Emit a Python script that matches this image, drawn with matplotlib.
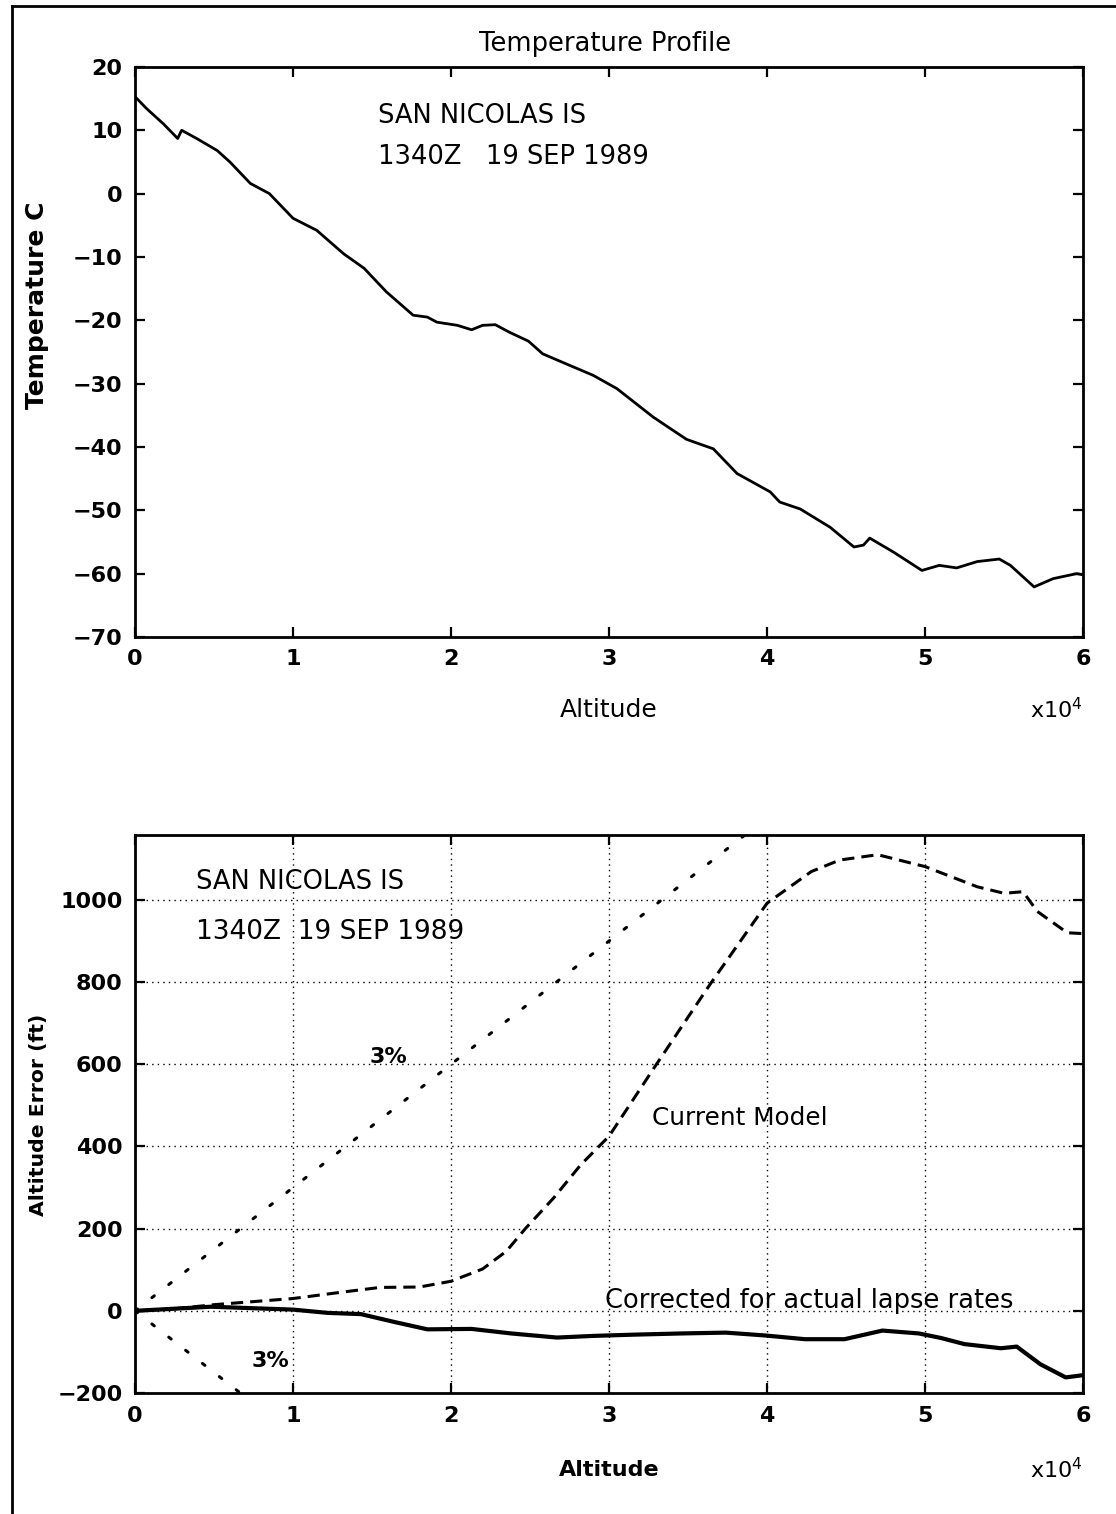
import matplotlib
matplotlib.use('Agg')
import matplotlib.pyplot as plt
from matplotlib.lines import Line2D

# temperature sounding, San Nicolas Is 1340Z 19 Sep 1989
alt_t = [0, 740, 1800, 2700, 2950, 3900, 5200, 6000, 7300, 8500, 10000, 11500,
         13200, 14500, 15900, 17600, 18500, 19100, 20400, 21300, 22000, 22800,
         23700, 24900, 25800, 27300, 29000, 30500, 32800, 34900, 36600, 38100,
         40200, 40800, 42100, 44000, 45500, 46100, 46500, 48000, 49800, 50900,
         52000, 53300, 54700, 55400, 56900, 58100, 59600, 60000]
temp = [15.3, 13.4, 11, 8.7, 10, 8.7, 6.8, 5, 1.6, 0, -3.9, -5.8,
        -9.5, -11.8, -15.5, -19.2, -19.5, -20.3, -20.8, -21.5, -20.8, -20.7,
        -21.9, -23.3, -25.3, -26.9, -28.7, -30.8, -35.3, -38.8, -40.3, -44.2,
        -47.1, -48.7, -49.8, -52.7, -55.8, -55.5, -54.4, -56.6, -59.5, -58.7,
        -59.1, -58.1, -57.7, -58.7, -62.1, -60.8, -60, -60.2]

# altitude error (ft)
alt_cm = [0, 2500, 5000, 10000, 13000, 15500, 18000, 20000, 22000, 23500, 24700,
          26500, 28200, 30000, 33000, 36400, 40000, 42800, 44600, 47000, 50000,
          53300, 55000, 56200, 57100, 59000, 60000]
err_cm = [0, 5, 15, 30, 45, 57, 58, 72, 102, 145, 200,
          275, 355, 425, 600, 795, 992, 1069, 1097, 1110, 1081,
          1032, 1016, 1020, 972, 920, 918]

alt_co = [0, 4800, 10000, 12200, 14300, 16400, 18500, 21300, 23800, 26700, 29000,
          31500, 34600, 37400, 39900, 42400, 44900, 47300, 49600, 51000, 52500,
          54800, 55800, 57300, 58900, 59900]
err_co = [0, 10, 3, -5, -8, -27, -45, -44, -55, -65, -61,
          -58, -55, -53, -60, -69, -69, -48, -55, -66, -81,
          -91, -87, -130, -162, -157]

alt_pct = [0, 10000, 20000, 30000, 40000]
err_up = [0, 300, 600, 900, 1200]
err_dn = [0, -300, -600, -900, -1200]

x_ticks = [0, 10000, 20000, 30000, 40000, 50000, 60000]
x_labels = ['0', '1', '2', '3', '4', '5', '6']
t_ticks = [20, 10, 0, -10, -20, -30, -40, -50, -60, -70]
e_ticks = [-200, 0, 200, 400, 600, 800, 1000]

TXT = dict(family='DejaVu Sans', color='black')


def style_axes(ax):
    for s in ax.spines.values():
        s.set_linewidth(2)
    ax.tick_params(direction='in', length=7, width=1.6, top=True, right=True,
                   labelsize=16, pad=9)
    for lab in ax.get_xticklabels() + ax.get_yticklabels():
        lab.set_fontweight('bold')
    ax.set_xlim(0, 60000)
    ax.set_xticks(x_ticks)
    ax.set_xticklabels(x_labels, fontweight='bold')


fig = plt.figure(figsize=(11.16, 15.14), dpi=100)

# top panel
ax1 = fig.add_axes([0.121, 0.5793, 0.8495, 0.3765])
ax1.plot(alt_t, temp, color='black', lw=2)
ax1.set_ylim(-70, 20)
ax1.set_yticks(t_ticks)
ax1.set_yticklabels([str(v).replace('-', '\u2212') for v in t_ticks], fontweight='bold')
style_axes(ax1)
ax1.text(0.496, 1.04, 'Temperature Profile', transform=ax1.transAxes,
         ha='center', va='center', fontsize=18.5, **TXT)
ax1.text(15380, 12.2, 'SAN NICOLAS IS', ha='left', va='center', fontsize=18.5, **TXT)
ax1.text(15380, 5.8, '1340Z   19 SEP 1989', ha='left', va='center', fontsize=18.5, **TXT)
ax1.text(0.5, -0.128, 'Altitude', transform=ax1.transAxes, ha='center', va='center',
         fontsize=18, **TXT)
ax1.text(1.0, -0.128, 'x10$^4$', transform=ax1.transAxes, ha='right', va='center',
         fontsize=16, **TXT)
ax1.text(-0.103, 0.582, 'Temperature C', transform=ax1.transAxes, rotation=90,
         ha='center', va='center', fontsize=18, fontweight='bold', **TXT)

# bottom panel
ax2 = fig.add_axes([0.121, 0.0799, 0.8495, 0.3686])
ax2.grid(True, color='black', linestyle=(0, (1, 3)), linewidth=1)
ax2.plot(alt_pct, err_up, color='black', lw=2.2, linestyle=(0, (1, 6)),
         dash_capstyle='round')
ax2.plot(alt_pct, err_dn, color='black', lw=2.2, linestyle=(0, (1, 6)),
         dash_capstyle='round')
ax2.plot(alt_cm, err_cm, color='black', lw=2.2, linestyle=(0, (4, 2.3)))
ax2.plot(alt_co, err_co, color='black', lw=3)
ax2.set_ylim(-200, 1158)
ax2.set_yticks(e_ticks)
ax2.set_yticklabels([str(v).replace('-', '\u2212') for v in e_ticks], fontweight='bold')
style_axes(ax2)
ax2.text(3860, 1044, 'SAN NICOLAS IS', ha='left', va='center', fontsize=18.5, **TXT)
ax2.text(3860, 922, '1340Z  19 SEP 1989', ha='left', va='center', fontsize=19, **TXT)
ax2.text(14870, 617, '3%', ha='left', va='center', fontsize=16, fontweight='bold', **TXT)
ax2.text(7400, -122, '3%', ha='left', va='center', fontsize=16, fontweight='bold', **TXT)
ax2.text(32700, 470, 'Current Model', ha='left', va='center', fontsize=17.8, **TXT)
ax2.text(29750, 24, 'Corrected for actual lapse rates', ha='left', va='center',
         fontsize=18.5, **TXT)
ax2.text(0.5, -0.138, 'Altitude', transform=ax2.transAxes, ha='center', va='center',
         fontsize=16, fontweight='bold', **TXT)
ax2.text(1.0, -0.138, 'x10$^4$', transform=ax2.transAxes, ha='right', va='center',
         fontsize=16, **TXT)
ax2.text(-0.102, 0.498, 'Altitude Error (ft)', transform=ax2.transAxes, rotation=90,
         ha='center', va='center', fontsize=14.7, fontweight='bold', **TXT)

# scanned page frame
fig.add_artist(Line2D([0.011, 0.011], [0.0, 0.996], color='black', lw=2))
fig.add_artist(Line2D([0.011, 1.0], [0.996, 0.996], color='black', lw=2))

fig.savefig('out.png', dpi=100)
